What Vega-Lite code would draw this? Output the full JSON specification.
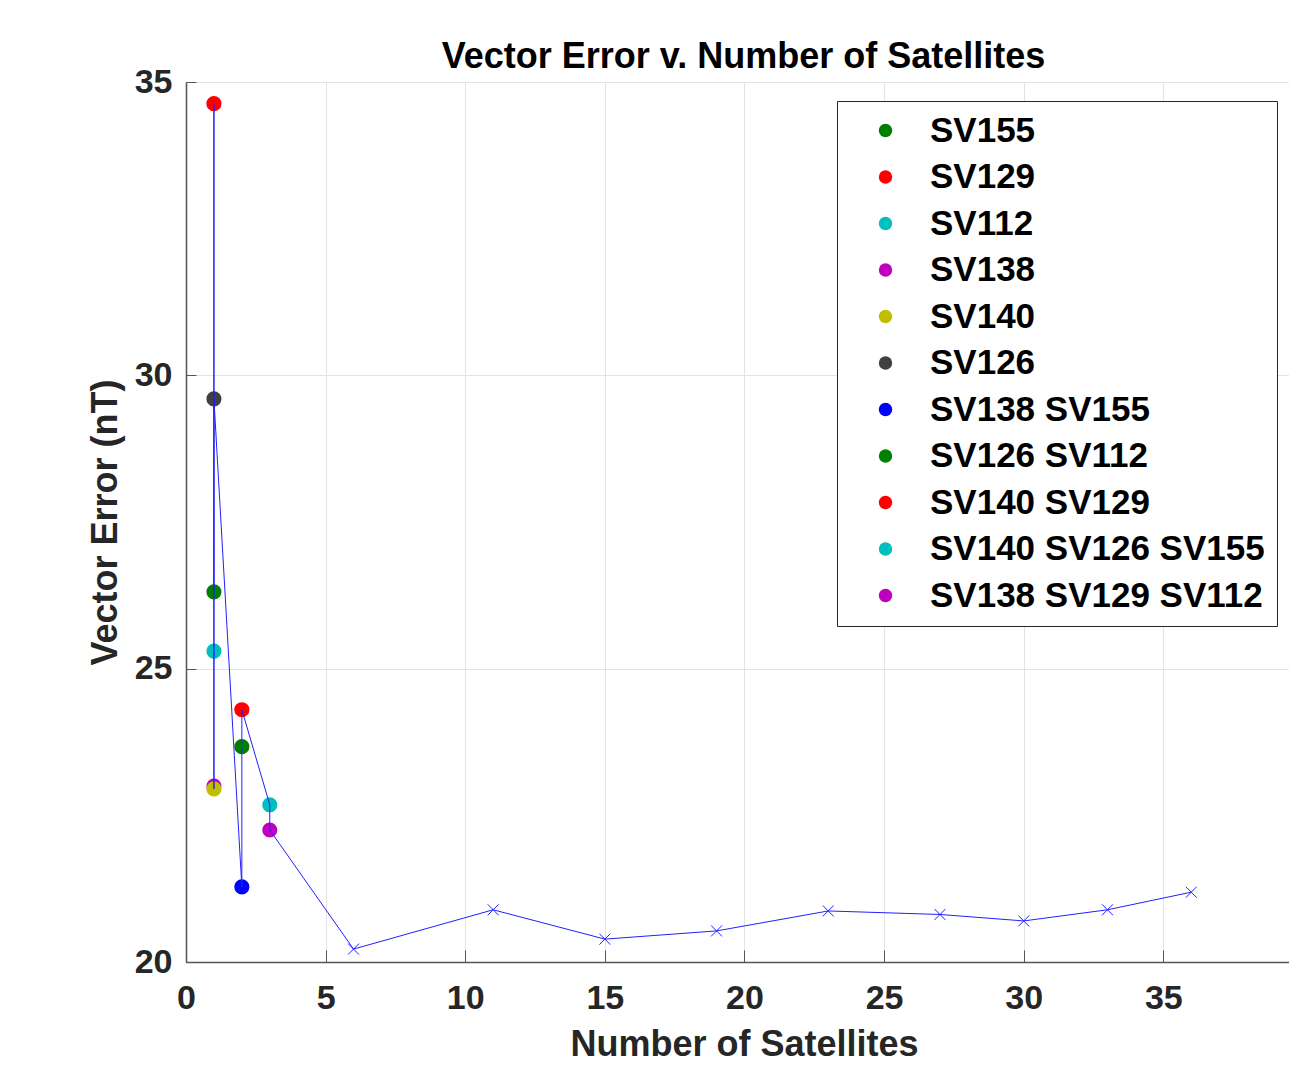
{
  "$schema": "https://vega.github.io/schema/vega-lite/v6.json",
  "width": 1103,
  "height": 880,
  "autosize": {"type": "none"},
  "padding": {"left": 186, "top": 82, "right": 0, "bottom": 103},
  "background": "white",
  "config": {
    "view": {"stroke": null},
    "font": "Liberation Sans",
    "axis": {
      "grid": true,
      "gridColor": "#e3e3e3",
      "gridWidth": 1,
      "domainColor": "#555555",
      "domainWidth": 1.5,
      "tickColor": "#555555",
      "tickWidth": 1,
      "labelFlush": false,
      "labelOverlap": false,
      "labelFont": "Liberation Sans",
      "labelFontSize": 34,
      "labelFontWeight": "bold",
      "labelColor": "#262626",
      "titleFont": "Liberation Sans",
      "titleFontSize": 36,
      "titleFontWeight": "bold",
      "titleColor": "#262626"
    }
  },
  "title": {
    "text": "Vector Error v. Number of Satellites",
    "font": "Liberation Sans",
    "fontSize": 36,
    "fontWeight": "bold",
    "color": "#000000",
    "offset": -11,
    "dx": 6
  },
  "data": {
    "values": [
      {"n": 1, "err": 26.31, "series": "SV155", "ord": 1, "kind": "sat"},
      {"n": 1, "err": 34.63, "series": "SV129", "ord": 2, "kind": "sat"},
      {"n": 1, "err": 25.30, "series": "SV112", "ord": 3, "kind": "sat"},
      {"n": 1, "err": 23.00, "series": "SV138", "ord": 4, "kind": "sat"},
      {"n": 1, "err": 22.95, "series": "SV140", "ord": 5, "kind": "sat"},
      {"n": 1, "err": 29.60, "series": "SV126", "ord": 6, "kind": "sat"},
      {"n": 2, "err": 21.28, "series": "SV138 SV155", "ord": 7, "kind": "sat"},
      {"n": 2, "err": 23.67, "series": "SV126 SV112", "ord": 8, "kind": "sat"},
      {"n": 2, "err": 24.30, "series": "SV140 SV129", "ord": 9, "kind": "sat"},
      {"n": 3, "err": 22.68, "series": "SV140 SV126 SV155", "ord": 10, "kind": "sat"},
      {"n": 3, "err": 22.25, "series": "SV138 SV129 SV112", "ord": 11, "kind": "sat"},
      {"n": 6, "err": 20.22, "ord": 12, "kind": "avg"},
      {"n": 11, "err": 20.89, "ord": 13, "kind": "avg"},
      {"n": 15, "err": 20.39, "ord": 14, "kind": "avg"},
      {"n": 19, "err": 20.53, "ord": 15, "kind": "avg"},
      {"n": 23, "err": 20.87, "ord": 16, "kind": "avg"},
      {"n": 27, "err": 20.81, "ord": 17, "kind": "avg"},
      {"n": 30, "err": 20.70, "ord": 18, "kind": "avg"},
      {"n": 33, "err": 20.89, "ord": 19, "kind": "avg"},
      {"n": 36, "err": 21.19, "ord": 20, "kind": "avg"}
    ]
  },
  "encoding": {
    "x": {
      "field": "n",
      "type": "quantitative",
      "scale": {"domain": [0, 39.5], "nice": false, "zero": false},
      "axis": {
        "title": "Number of Satellites",
        "values": [0, 5, 10, 15, 20, 25, 30, 35],
        "tickSize": -12,
        "labelPadding": 31,
        "titlePadding": 12,
        "titleX": 558
      }
    },
    "y": {
      "field": "err",
      "type": "quantitative",
      "scale": {"domain": [20, 35], "nice": false, "zero": false},
      "axis": {
        "title": "Vector Error (nT)",
        "values": [20, 25, 30, 35],
        "tickSize": -10,
        "labelPadding": 24,
        "titlePadding": 10
      }
    }
  },
  "layer": [
    {
      "transform": [{"filter": "datum.kind === 'sat'"}],
      "mark": {"type": "point", "shape": "circle", "filled": true, "size": 230, "opacity": 1},
      "encoding": {
        "color": {
          "field": "series",
          "type": "nominal",
          "sort": null,
          "scale": {
            "domain": ["SV155", "SV129", "SV112", "SV138", "SV140", "SV126", "SV138 SV155", "SV126 SV112", "SV140 SV129", "SV140 SV126 SV155", "SV138 SV129 SV112"],
            "range": ["#008000", "#ff0000", "#00bfbf", "#bf00bf", "#bfbf00", "#404040", "#0000ff", "#008000", "#ff0000", "#00bfbf", "#bf00bf"]
          },
          "legend": {
            "title": null,
            "orient": "none",
            "legendX": 651,
            "legendY": 19,
            "fillColor": "white",
            "strokeColor": "#262626",
            "padding": 12,
            "rowPadding": 10.5,
            "labelFont": "Liberation Sans",
            "labelFontSize": 35,
            "labelFontWeight": "bold",
            "labelColor": "#000000",
            "labelLimit": 500,
            "symbolType": "circle",
            "symbolSize": 180,
            "symbolStrokeWidth": 0,
            "symbolOffset": 19,
            "labelOffset": 27
          }
        }
      }
    },
    {
      "mark": {"type": "line", "color": "#2020ff", "strokeWidth": 1},
      "encoding": {"order": {"field": "ord", "type": "quantitative"}}
    },
    {
      "transform": [{"filter": "datum.kind === 'avg'"}],
      "mark": {"type": "point", "shape": "M-1,-1L1,1M-1,1L1,-1", "filled": false, "size": 120, "color": "#2020ff", "strokeWidth": 1, "opacity": 1}
    }
  ]
}
